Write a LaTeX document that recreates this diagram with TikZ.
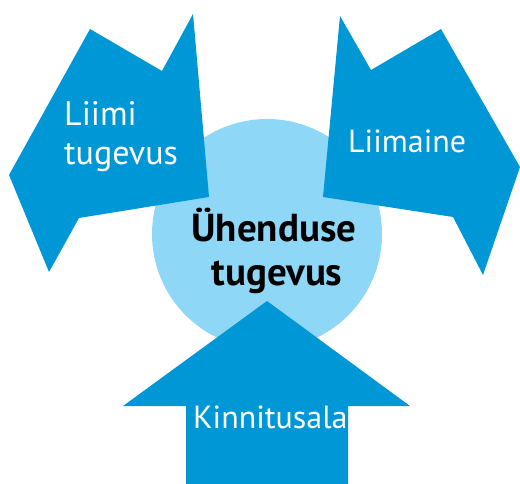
\documentclass[tikz,border=0pt]{standalone}
\usepackage{fontspec}
\setmainfont{PT Sans}
\begin{document}
\begin{tikzpicture}[x=1pt,y=-1pt]
\definecolor{darkblue}{RGB}{0,151,215}
\definecolor{lightblue}{RGB}{142,215,247}
\tikzset{
  arrowshape/.style={fill=darkblue,draw=none},
  whitelabel/.style={text=white,font=\fontsize{32}{38}\selectfont,inner sep=0pt,anchor=base west},
  boldlabel/.style={text=black,font=\fontsize{39}{43}\selectfont\bfseries,inner sep=0pt,align=center}
}
\useasboundingbox (0,0) rectangle (520,484);
% centre circle
\fill[lightblue] (267,234) circle (115);
% left arrow
\fill[arrowshape] (9,175) -- (90,29) -- (162,71) -- (193,14) -- (209,197) -- (79,218) -- (49,272) -- cycle;
% right arrow
\fill[arrowshape] (520,167) -- (441,29) -- (371,70) -- (340,16) -- (323,197) -- (453,217) -- (483,275) -- cycle;
% bottom arrow
\fill[arrowshape] (267,301) -- (410,406) -- (348,406) -- (348,484) -- (186,484) -- (186,406) -- (123,406) -- cycle;
% labels
\node[whitelabel,font=\fontsize{34}{38}\selectfont] (l1) at (64,126) {Liimi};
\node[whitelabel,font=\fontsize{34}{38}\selectfont] (l2) at (64,165) {tugevus};
\node[whitelabel] (r1) at (348,153) {Liimaine};
\node[whitelabel] (b1) at (193,428) {Kinnitusala};
\node[boldlabel,anchor=base] (c1) at (274,242) {Ühenduse};
\node[boldlabel,anchor=base] (c2) at (277,285) {tugevus};
\end{tikzpicture}
\end{document}
